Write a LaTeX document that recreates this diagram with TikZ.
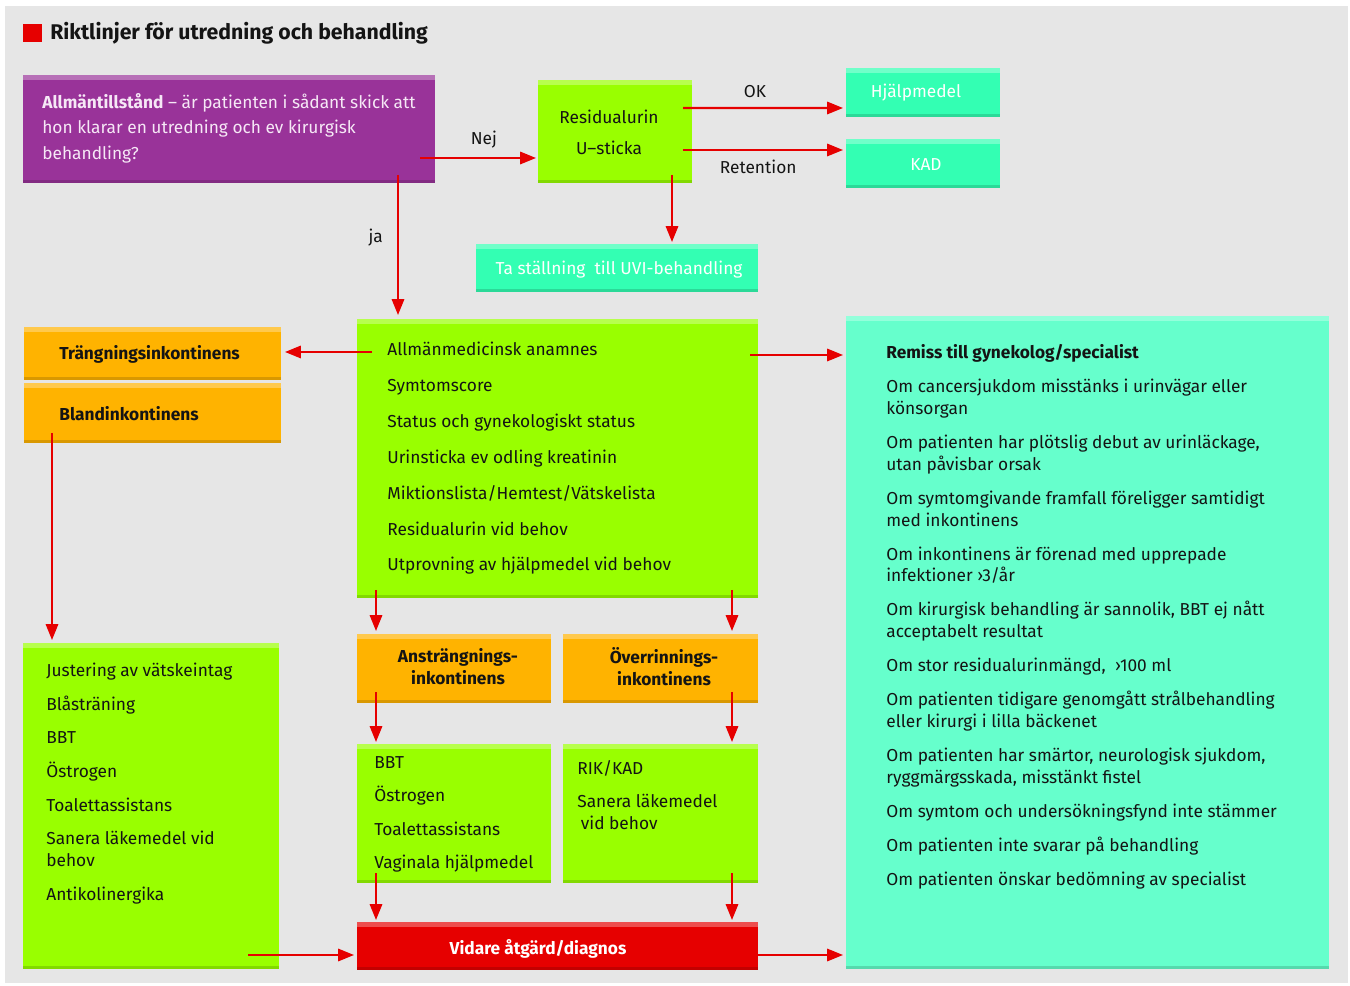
\documentclass[tikz,border=0pt]{standalone}
\usepackage{fontspec}
\setmainfont{Fira Sans}
\usetikzlibrary{arrows.meta,calc,fit}
\definecolor{bggray}{HTML}{E6E6E6}
\definecolor{fpurple}{HTML}{993399}
\definecolor{flime}{HTML}{99FF00}
\definecolor{fmint}{HTML}{66FFCC}
\definecolor{fteal}{HTML}{33FFB3}
\definecolor{forange}{HTML}{FFB300}
\definecolor{fred}{HTML}{E60000}
\definecolor{ftext}{HTML}{141414}
\definecolor{flilac}{HTML}{F6E8F6}
\tikzset{
  box/.style={fill=#1, inner sep=0pt, outer sep=0pt,
    path picture={
      \fill[white, opacity=.3] (path picture bounding box.north west) rectangle ($(path picture bounding box.north east)+(0,5)$);
      \fill[black, opacity=.15] (path picture bounding box.south west) rectangle ($(path picture bounding box.south east)+(0,-3)$);
    }},
  arr/.style={draw=fred, line width=1.2pt, -{Triangle[length=9pt,width=7pt]}},
  txt/.style={inner sep=0pt, anchor=north west, align=left, text=ftext, font=\fontsize{9.85}{12.5}\selectfont},
  lbl/.style={inner sep=0pt, text=ftext, font=\fontsize{9.85}{12.5}\selectfont},
  head/.style={lbl, align=center, font=\fontsize{9.85}{12.5}\selectfont\bfseries}
}
\begin{document}
\begin{tikzpicture}[x=0.02cm, y=-0.02cm]
\useasboundingbox (0,0) rectangle (1350,986);
\fill[white] (0,0) rectangle (1350,986);
\fill[bggray] (5,6) rectangle (1348,983);

% title
\node[fill=fred, inner sep=0pt, fit={(23,24) (42,42)}] (mark) {};
\node[lbl, anchor=west, font=\fontsize{12.1}{15}\selectfont\bfseries] (title) at (50,33) {Riktlinjer för utredning och behandling};

% top row
\node[box=fpurple, fit={(23,75) (435,183)}] (state) {};
\node[txt, text=flilac, font=\fontsize{9.85}{14.5}\selectfont] (stateTxt) at (42,93) {\textbf{Allmäntillstånd} -- är patienten i sådant skick att\\hon klarar en utredning och ev kirurgisk\\behandling?};
\node[box=flime, fit={(538,80) (692,183)}] (resid) {};
\node[lbl, align=center, font=\fontsize{9.85}{17.6}\selectfont] (residTxt) at (609,132.5) {Residualurin\\U--sticka};
\node[box=fteal, fit={(846,68) (1000,117)}] (aid) {};
\node[lbl, text=white] (aidTxt) at (916,93) {Hjälpmedel};
\node[box=fteal, fit={(846,139) (1000,188)}] (kad) {};
\node[lbl, text=white] (kadTxt) at (926,165) {KAD};
\node[box=fteal, fit={(476,244) (758,292)}] (uvi) {};
\node[lbl, text=white] (uviTxt) at (619,270) {Ta ställning\ \ till UVI-behandling};

% middle
\node[box=flime, fit={(357,319) (758,598)}] (exam) {};
\node[txt, font=\fontsize{9.85}{20.4}\selectfont] (examTxt) at (387,342) {Allmänmedicinsk anamnes\\Symtomscore\\Status och gynekologiskt status\\Urinsticka ev odling kreatinin\\Miktionslista/Hemtest/Vätskelista\\Residualurin vid behov\\Utprovning av hjälpmedel vid behov};
\node[box=forange, fit={(24,327) (281,380)}] (urge) {};
\node[head, anchor=west] (urgeTxt) at (59,354) {Trängningsinkontinens};
\node[box=forange, fit={(24,383) (281,443)}] (mixed) {};
\node[head, anchor=west] (mixedTxt) at (59,414) {Blandinkontinens};
\node[box=fmint, fit={(846,316) (1329,969)}] (refer) {};
\node[txt] (referTxt) at (886,344) {\textbf{Remiss till gynekolog/specialist}\\[6.8pt]
Om cancersjukdom misstänks i urinvägar eller\\könsorgan\\[6.8pt]
Om patienten har plötslig debut av urinläckage,\\utan påvisbar orsak\\[6.8pt]
Om symtomgivande framfall föreligger samtidigt\\med inkontinens\\[6.8pt]
Om inkontinens är förenad med upprepade\\infektioner ›3/år\\[6.8pt]
Om kirurgisk behandling är sannolik, BBT ej nått\\acceptabelt resultat\\[6.8pt]
Om stor residualurinmängd,\ \ ›100 ml\\[6.8pt]
Om patienten tidigare genomgått strålbehandling\\eller kirurgi i lilla bäckenet\\[6.8pt]
Om patienten har smärtor, neurologisk sjukdom,\\ryggmärgsskada, misstänkt fistel\\[6.8pt]
Om symtom och undersökningsfynd inte stämmer\\[6.8pt]
Om patienten inte svarar på behandling\\[6.8pt]
Om patienten önskar bedömning av specialist};

% lower
\node[box=flime, fit={(23,643) (279,969)}] (urgeCare) {};
\node[txt] (urgeCareTxt) at (46,663) {Justering av vätskeintag\\[6.6pt]Blåsträning\\[6.6pt]BBT\\[6.6pt]Östrogen\\[6.6pt]Toalettassistans\\[6.6pt]Sanera läkemedel vid\\behov\\[6.6pt]Antikolinergika};
\node[box=forange, fit={(357,634) (551,703)}] (stress) {};
\node[head] (stressTxt) at (458,667) {Ansträngnings-\\inkontinens};
\node[box=forange, fit={(563,634) (758,703)}] (overflow) {};
\node[head] (overflowTxt) at (664,667) {Överrinnings-\\inkontinens};
\node[box=flime, fit={(357,744) (551,883)}] (stressCare) {};
\node[txt] (stressCareTxt) at (374,756) {BBT\\[6.6pt]Östrogen\\[6.6pt]Toalettassistans\\[6.6pt]Vaginala hjälpmedel};
\node[box=flime, fit={(563,744) (758,883)}] (overflowCare) {};
\node[txt] (overflowCareTxt) at (577,760) {RIK/KAD\\[6.6pt]Sanera läkemedel\\\hspace*{2pt}vid behov};
\node[box=fred, fit={(357,922) (758,970)}] (further) {};
\node[head, text=white] (furtherTxt) at (538,949) {Vidare åtgärd/diagnos};

% arrows
\draw[arr] ($(state.south east)+(-15,-25)$) -- node[lbl, above=5pt, pos=.55] {Nej} ($(resid.south west)+(-2,-25)$);
\draw[arr] ($(resid.north east)+(-9,28)$) -- node[lbl, above=5pt, pos=.45] {OK} ($(aid.west)+(-3,15.5)$);
\draw[arr] ($(resid.north east)+(-9,70)$) -- node[lbl, below=5pt, pos=.47] {Retention} ($(kad.west)+(-3,-13.5)$);
\draw[arr] ($(resid.south east)+(-20,-8)$) -- ($(uvi.north east)+(-86,-2)$);
\draw[arr] ($(state.south west)+(375,-8)$) -- node[lbl, left=8pt, pos=.45] {ja} ($(exam.north west)+(41,-4)$);
\draw[arr] ($(exam.north west)+(15,33)$) -- ($(urge.east)+(4,-1.5)$);
\draw[arr] ($(exam.north east)+(-8,36)$) -- ($(refer.north west)+(-3,39)$);
\draw[arr] ($(mixed.south west)+(28,-10)$) -- ($(urgeCare.north west)+(29,-3)$);
\draw[arr] ($(exam.south west)+(19,-8)$) -- ($(stress.north west)+(19,-3)$);
\draw[arr] ($(exam.south east)+(-26,-8)$) -- ($(overflow.north east)+(-26,-3)$);
\draw[arr] ($(stress.south west)+(19,-11)$) -- ($(stressCare.north west)+(19,-2)$);
\draw[arr] ($(overflow.south east)+(-26,-11)$) -- ($(overflowCare.north east)+(-26,-2)$);
\draw[arr] ($(stressCare.south west)+(19,-10)$) -- ($(further.north west)+(19,-2)$);
\draw[arr] ($(overflowCare.south east)+(-26,-10)$) -- ($(further.north east)+(-26,-2)$);
\draw[arr] ($(urgeCare.south east)+(-31,-14)$) -- ($(further.west)+(-3,9)$);
\draw[arr] ($(further.east)+(0,9)$) -- ($(refer.south west)+(-3,-14)$);
\end{tikzpicture}
\end{document}
